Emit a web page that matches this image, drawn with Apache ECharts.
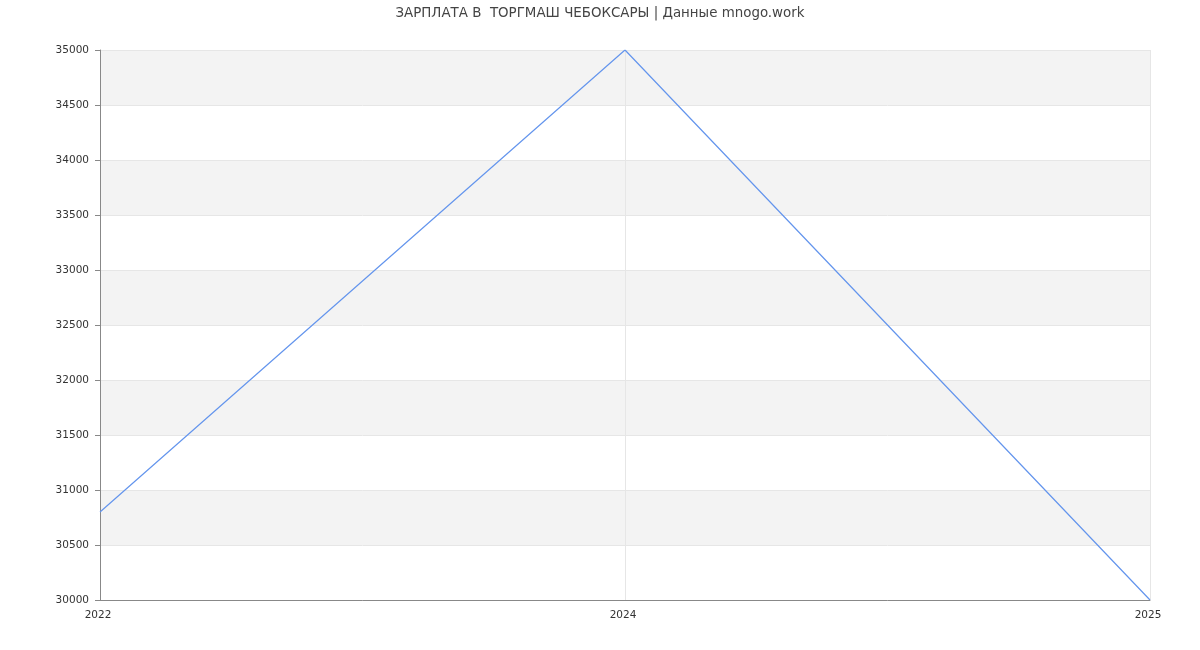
<!DOCTYPE html>
<html><head><meta charset="utf-8">
<script src="https://cdn.jsdelivr.net/npm/echarts@6/dist/echarts.min.js"></script>
<style>html,body{margin:0;padding:0;background:#fff}#c{width:1200px;height:650px}</style>
</head><body><div id="c"></div>
<script>
var titleText = 'ЗАРПЛАТА В  ТОРГМАШ ЧЕБОКСАРЫ | Данные mnogo.work';
var years = ['2022', '2024', '2025'];
var salary = [30800, 35000, 30000];
var yMin = 30000, yMax = 35000, yStep = 500;

var chart = echarts.init(document.getElementById('c'), null, {renderer: 'canvas'});
chart.setOption({
  animation: false,
  backgroundColor: '#ffffff',
  title: {
    text: titleText, left: 'center', top: 2,
    textStyle: {fontFamily: 'DejaVu Sans', fontSize: 13.4, fontWeight: 'normal', color: '#444'}
  },
  grid: {left: 100, right: 50, top: 50, bottom: 50, containLabel: false},
  xAxis: {
    type: 'category', data: years, boundaryGap: false,
    axisLine: {lineStyle: {color: '#888'}},
    axisTick: {show: false},
    axisLabel: {fontFamily: 'DejaVu Sans', fontSize: 10.5, color: '#333', margin: 10, padding: [0, 4, 0, 0]},
    splitLine: {show: true, lineStyle: {color: '#e6e6e6'}}
  },
  yAxis: {
    type: 'value', min: yMin, max: yMax, interval: yStep,
    axisLine: {show: true, lineStyle: {color: '#888'}},
    axisTick: {show: true, length: 5, lineStyle: {color: '#888'}},
    axisLabel: {fontFamily: 'DejaVu Sans', fontSize: 10.5, color: '#333', margin: 11,
      formatter: function (v) { return String(v); }},
    splitLine: {show: true, lineStyle: {color: '#e6e6e6'}},
    splitArea: {show: true, areaStyle: {color: ['#ffffff', '#f3f3f3']}}
  },
  series: [{
    type: 'line', data: salary, showSymbol: false, symbol: 'none',
    lineStyle: {color: '#6495ed', width: 1.2}
  }]
});
</script></body></html>
